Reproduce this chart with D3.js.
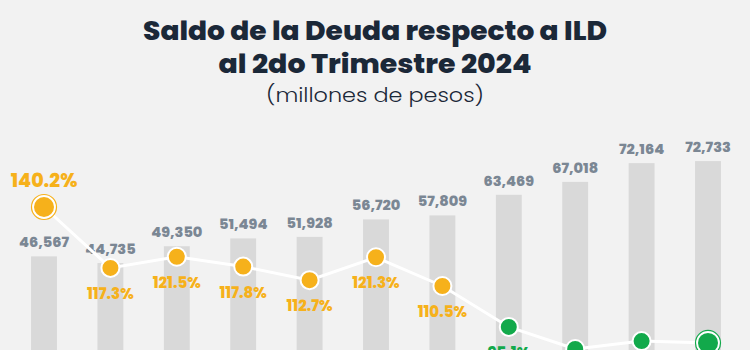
<!DOCTYPE html>
<html><head><meta charset="utf-8">
<script src="https://cdn.jsdelivr.net/npm/d3@7"></script>
<style>html,body{margin:0;padding:0;background:#f2f2f2;overflow:hidden}</style>
</head><body><svg id="c" width="750" height="350"></svg>
<script>
const categories = ["2014","2015","2016","2017","2018","2019","2020","2021","2022","2023","2T 2024"];
const saldo = [46567,44735,49350,51494,51928,56720,57809,63469,67018,72164,72733];
const ratio = [140.2,117.3,121.5,117.8,112.7,121.3,110.5,95.1,86.8,89.8,89.1];
const titleLines = ["Saldo de la Deuda respecto a ILD","al 2do Trimestre 2024"];
const subtitle = "(millones de pesos)";

const svg = d3.select("#c");
svg.append("rect").attr("width",750).attr("height",350).attr("fill","#f2f2f2");
const font = "Poppins, Inter, 'Noto Sans', sans-serif";
const titleWidths = [464, 313];

svg.selectAll("text.title").data(titleLines).join("text").attr("class","title")
  .attr("x",375).attr("y",(d,i)=>40+i*33).attr("text-anchor","middle")
  .attr("font-family",font).attr("font-weight",800).attr("font-size",25.5)
  .attr("textLength",(d,i)=>titleWidths[i]).attr("lengthAdjust","spacingAndGlyphs")
  .attr("fill","#1b2838").text(d=>d);
svg.append("text").attr("x",375).attr("y",101.5).attr("text-anchor","middle")
  .attr("font-family",font).attr("font-weight",300).attr("font-size",20.5)
  .attr("textLength",218).attr("lengthAdjust","spacingAndGlyphs")
  .attr("fill","#1b2838").text(subtitle);

const x = d3.scaleBand().domain(categories).range([10.8,741.2]).paddingInner(0.61).paddingOuter(0.305);
const yB = d3.scaleLinear().domain([0,80000]).range([426,134.6]);
const yP = d3.scaleLinear().domain([80,140.2]).range([367.1,207]);
const cx = d => x(d)+x.bandwidth()/2;

svg.selectAll("rect.bar").data(saldo).join("rect").attr("class","bar")
  .attr("x",(d,i)=>x(categories[i])).attr("width",x.bandwidth())
  .attr("y",d=>yB(d)).attr("height",d=>yB(0)-yB(d)).attr("fill","#d9d9d9");

svg.selectAll("text.val").data(saldo).join("text").attr("class","val")
  .attr("x",(d,i)=>cx(categories[i])).attr("y",d=>yB(d)-9).attr("text-anchor","middle")
  .attr("font-family",font).attr("font-weight",800).attr("font-size",14.5)
  .attr("fill","#7b8794").text(d=>d3.format(",")(d));

const line = d3.line().x((d,i)=>cx(categories[i])).y(d=>yP(d));
svg.append("path").datum(ratio).attr("d",line).attr("fill","none").attr("stroke","#ffffff").attr("stroke-width",3);

const col = v => v>=100 ? "#f6b11b" : "#12a94b";
const last = ratio.length-1;
svg.selectAll("circle.ring").data(ratio.map((v,i)=>({v,i})).filter(d=>d.i===0||d.i===last)).join("circle")
  .attr("class","ring").attr("cx",d=>cx(categories[d.i])).attr("cy",d=>yP(d.v)).attr("r",12.5)
  .attr("fill","#fff").attr("stroke",d=>col(d.v)).attr("stroke-width",1.2);
svg.selectAll("circle.pt").data(ratio).join("circle").attr("class","pt")
  .attr("cx",(d,i)=>cx(categories[i])).attr("cy",d=>yP(d))
  .attr("r",(d,i)=>(i===0||i===last)?10:9)
  .attr("fill",d=>col(d)).attr("stroke","#fff").attr("stroke-width",(d,i)=>(i===0||i===last)?0:2);

svg.selectAll("text.pct").data(ratio).join("text").attr("class","pct")
  .attr("x",(d,i)=>cx(categories[i]))
  .attr("y",(d,i)=>i===0? yP(d)-20 : yP(d)+31)
  .attr("text-anchor","middle").attr("font-family",font).attr("font-weight",800)
  .attr("font-size",(d,i)=>i===0?19:15).attr("fill",d=>col(d))
  .text(d=>d.toFixed(1)+"%");
</script></body></html>
